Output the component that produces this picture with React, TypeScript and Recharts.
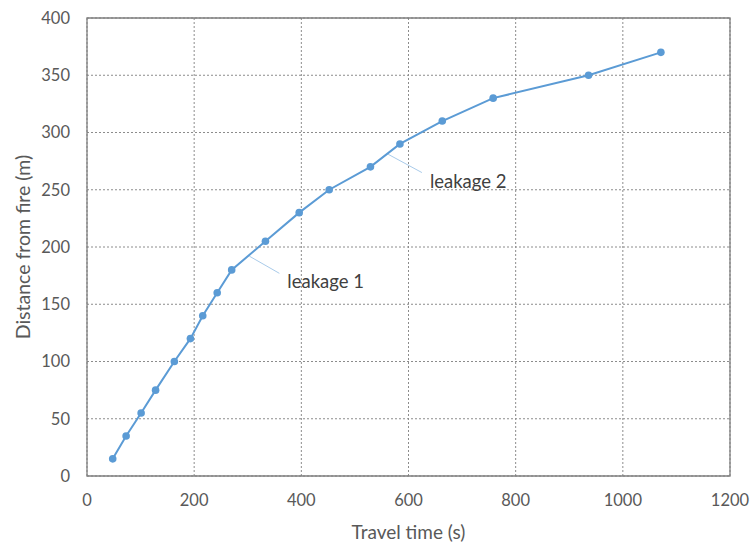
import React from "react";
import {
  LineChart,
  Line,
  XAxis,
  YAxis,
  CartesianGrid,
  ReferenceArea,
  ReferenceLine,
  ReferenceDot,
} from "recharts";

// travel time (s) of the smoke front against distance from the fire (m)
const travelTime = [48, 73, 101, 128, 163, 193, 216, 243, 270, 333, 396, 452, 529, 584, 663, 758, 936, 1071];
const distance = [15, 35, 55, 75, 100, 120, 140, 160, 180, 205, 230, 250, 270, 290, 310, 330, 350, 370];

const xTicks = [0, 200, 400, 600, 800, 1000, 1200];
const yTicks = [0, 50, 100, 150, 200, 250, 300, 350, 400];

// callouts: leader line start/end in data units, then label text
const callouts = [
  { from: { x: 303, y: 192 }, to: { x: 359, y: 177 }, text: "leakage 1" },
  { from: { x: 562, y: 281 }, to: { x: 625, y: 265 }, text: "leakage 2" },
];

const FONT = "Lato, 'Open Sans', sans-serif";
const TEXT = "#595959";
const BLUE = "#5B9BD5";

export default function App() {
  const data = travelTime.map((t, i) => ({ t, d: distance[i] }));

  return (
    <div style={{ position: "fixed", left: 0, top: 0, width: 754, height: 549, background: "#fff" }}>
      <LineChart
        width={754}
        height={549}
        data={data}
        margin={{ top: 18, right: 24, left: 0, bottom: 0 }}
        style={{ fontFamily: FONT }}
      >
        <CartesianGrid stroke="#8c8c8c" strokeDasharray="2 2" strokeWidth={1} />
        <XAxis
          type="number"
          dataKey="t"
          domain={[0, 1200]}
          ticks={xTicks}
          height={73}
          axisLine={false}
          tickLine={false}
          tickSize={0}
          tickMargin={18}
          tick={{ fill: TEXT, fontSize: 16.5, fontFamily: FONT }}
          label={{
            content: ({ viewBox }: any) => (
              <text
                x={viewBox.x + viewBox.width / 2}
                y={viewBox.y + 55}
                textAnchor="middle"
                dominantBaseline="central"
                fill={TEXT}
                fontSize={19}
                fontFamily={FONT}
              >
                Travel time (s)
              </text>
            ),
          }}
        />
        <YAxis
          type="number"
          dataKey="d"
          domain={[0, 400]}
          ticks={yTicks}
          width={87}
          axisLine={false}
          tickLine={false}
          tickSize={0}
          tickMargin={17}
          tick={{ fill: TEXT, fontSize: 16.5, fontFamily: FONT }}
          label={{
            content: ({ viewBox }: any) => {
              const cx = 22;
              const cy = viewBox.y + viewBox.height / 2;
              return (
                <text
                  x={cx}
                  y={cy}
                  transform={`rotate(-90 ${cx} ${cy})`}
                  textAnchor="middle"
                  dominantBaseline="central"
                  fill={TEXT}
                  fontSize={19.5}
                  fontFamily={FONT}
                >
                  Distance from fire (m)
                </text>
              );
            },
          }}
        />
        {/* plot frame */}
        <ReferenceArea x1={0} x2={1200} y1={0} y2={400} fill="none" stroke="#7f7f7f" strokeWidth={1.3} />
        {callouts.map((c) => (
          <ReferenceLine
            key={c.text}
            segment={[c.from, c.to]}
            stroke="#a9cbea"
            strokeWidth={1}
          />
        ))}
        {callouts.map((c) => (
          <ReferenceDot
            key={c.text + "-label"}
            x={c.to.x}
            y={c.to.y}
            r={0}
            stroke="none"
            fill="none"
            label={{
              content: ({ viewBox }: any) => (
                <text
                  x={viewBox.x + 8}
                  y={viewBox.y + 8}
                  dominantBaseline="central"
                  fill="#404040"
                  fontSize={18.5}
                  fontFamily={FONT}
                >
                  {c.text}
                </text>
              ),
            }}
          />
        ))}
        <Line
          type="linear"
          dataKey="d"
          stroke={BLUE}
          strokeWidth={2}
          dot={{ r: 3.8, fill: BLUE, stroke: BLUE, strokeWidth: 0 }}
          activeDot={false}
          isAnimationActive={false}
        />
      </LineChart>
    </div>
  );
}
